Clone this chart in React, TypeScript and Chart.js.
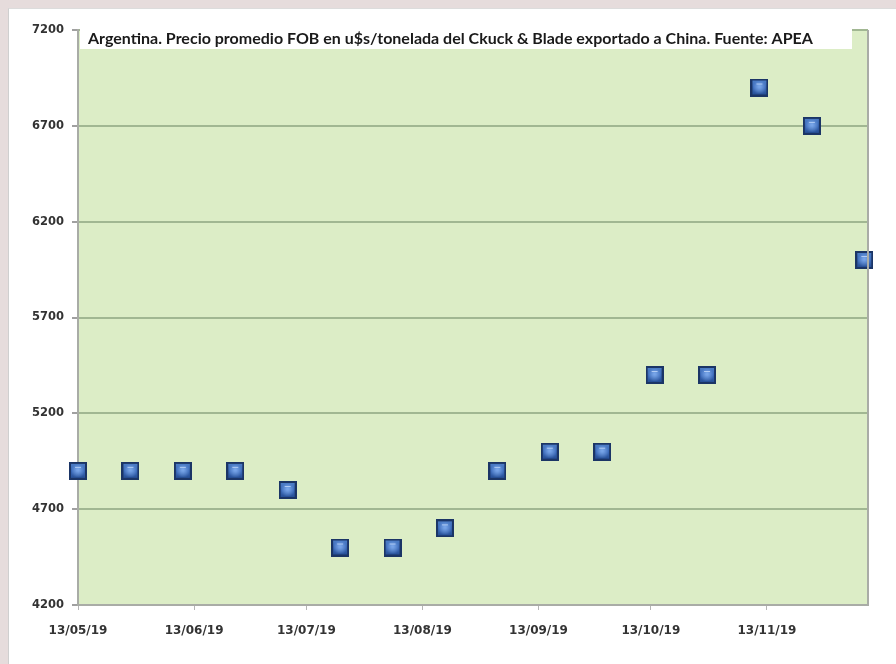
import React, { useEffect, useRef } from "react";
import { Chart, registerables } from "chart.js";

Chart.register(...registerables);

const TITLE = "Argentina. Precio promedio FOB en u$s/tonelada del Ckuck & Blade exportado a China. Fuente: APEA";

const dates = [
  "13/05/19", "27/05/19", "10/06/19", "24/06/19", "08/07/19", "22/07/19", "05/08/19", "19/08/19",
  "02/09/19", "16/09/19", "30/09/19", "14/10/19", "28/10/19", "11/11/19", "25/11/19", "09/12/19",
];
const prices = [4900, 4900, 4900, 4900, 4800, 4500, 4500, 4600, 4900, 5000, 5000, 5400, 5400, 6900, 6700, 6000];

const xTickLabels = ["13/05/19", "13/06/19", "13/07/19", "13/08/19", "13/09/19", "13/10/19", "13/11/19"];
const xStart = "13/05/19";
const xEnd = "10/12/19";
const yMin = 4200;
const yMax = 7200;
const yStep = 500;

function dayNum(s: string): number {
  const [d, m, y] = s.split("/").map(Number);
  return Date.UTC(2000 + y, m - 1, d) / 86400000;
}
const base = dayNum(xStart);
const toX = (s: string) => dayNum(s) - base;

function makeMarker(): HTMLCanvasElement {
  const c = document.createElement("canvas");
  const s = 18;
  c.width = s;
  c.height = s;
  const g = c.getContext("2d")!;
  g.fillStyle = "#1b3566";
  g.fillRect(0, 0, s, s);
  const grad = g.createLinearGradient(0, 1, 0, s - 1);
  grad.addColorStop(0, "#4f80c8");
  grad.addColorStop(0.5, "#3a69b8");
  grad.addColorStop(1, "#244c92");
  g.fillStyle = grad;
  g.fillRect(2, 2, s - 4, s - 4);
  const rg = g.createRadialGradient(s / 2, s / 2 - 1, 1, s / 2, s / 2, 7);
  rg.addColorStop(0, "rgba(130,175,240,0.85)");
  rg.addColorStop(1, "rgba(130,175,240,0)");
  g.fillStyle = rg;
  g.fillRect(3, 3, s - 6, s - 6);
  g.fillStyle = "rgba(210,228,255,0.7)";
  g.fillRect(6, 5, 6, 1);
  return c;
}

export default function App() {
  const ref = useRef<HTMLCanvasElement | null>(null);

  useEffect(() => {
    const canvas = ref.current;
    if (!canvas) return;
    const marker = makeMarker();

    const bgPlugin = {
      id: "plotDecor",
      beforeDraw(chart: any) {
        const { ctx, chartArea: a } = chart;
        ctx.save();
        ctx.fillStyle = "#dcedc6";
        ctx.fillRect(a.left, a.top, a.right - a.left, a.bottom - a.top);
        ctx.restore();
      },
      afterDatasetsDraw(chart: any) {
        const { ctx, chartArea: a } = chart;
        ctx.save();
        ctx.strokeStyle = "#a9aca6";
        ctx.lineWidth = 2;
        ctx.beginPath();
        ctx.moveTo(a.right, a.top);
        ctx.lineTo(a.right, a.bottom);
        ctx.stroke();
        // title box
        ctx.fillStyle = "#ffffff";
        ctx.fillRect(a.left + 2, a.top - 3, 772, 22);
        ctx.font = "bold 16px Lato";
        ctx.fillStyle = "#1a1a1a";
        ctx.textBaseline = "middle";
        ctx.textAlign = "left";
        ctx.fillText(TITLE, a.left + 10, a.top + 9);
        ctx.restore();
      },
    };

    const chart = new Chart(canvas, {
      type: "scatter",
      data: {
        datasets: [
          {
            label: "Precio FOB",
            data: dates.map((d, i) => ({ x: toX(d), y: prices[i] })),
            pointStyle: marker as any,
            pointRadius: 9,
            pointHoverRadius: 9,
            showLine: false,
            clip: false as any,
          },
        ],
      },
      options: {
        responsive: false,
        animation: false,
        devicePixelRatio: 1,
        layout: { padding: { top: 30, right: 28, left: 0, bottom: 0 } },
        plugins: { legend: { display: false }, tooltip: { enabled: false }, title: { display: false } },
        scales: {
          x: {
            type: "linear",
            min: 0,
            max: toX(xEnd),
            afterBuildTicks(scale: any) {
              scale.ticks = xTickLabels.map((l) => ({ value: toX(l) }));
            },
            afterFit(scale: any) {
              scale.height = 59;
            },
            grid: { drawOnChartArea: false, drawTicks: true, tickLength: 5, tickColor: "#b5b5b5" },
            border: { display: true, color: "#a9aca6", width: 2 },
            ticks: {
              autoSkip: false,
              maxRotation: 0,
              padding: 14,
              color: "#333333",
              font: { family: "DejaVu Sans", weight: "bold", size: 12 },
              callback(v: any) {
                const i = xTickLabels.findIndex((l) => toX(l) === v);
                return i >= 0 ? xTickLabels[i] : "";
              },
            },
          },
          y: {
            type: "linear",
            min: yMin,
            max: yMax,
            afterFit(scale: any) {
              scale.width = 78;
            },
            grid: { color: "#a1b792", lineWidth: 2, tickLength: 6, tickColor: "#a0a0a0" },
            border: { display: true, color: "#a9aca6", width: 2 },
            ticks: {
              stepSize: yStep,
              padding: 8,
              color: "#333333",
              font: { family: "DejaVu Sans", weight: "bold", size: 11.5 },
              callback(v: any) {
                return String(v);
              },
            },
          },
        },
      },
      plugins: [bgPlugin],
    });
    return () => chart.destroy();
  }, []);

  return (
    <div style={{ position: "fixed", left: 0, top: 0, width: 896, height: 664, background: "#e6dcdc", overflow: "hidden" }}>
      <div
        style={{
          position: "absolute",
          left: 8,
          top: 8,
          right: 0,
          bottom: 0,
          background: "#ffffff",
          borderLeft: "1px solid #cfcfcf",
          borderTop: "1px solid #dcdcdc",
        }}
      />
      <canvas ref={ref} width={896} height={664} style={{ position: "absolute", left: 0, top: 0 }} />
    </div>
  );
}
